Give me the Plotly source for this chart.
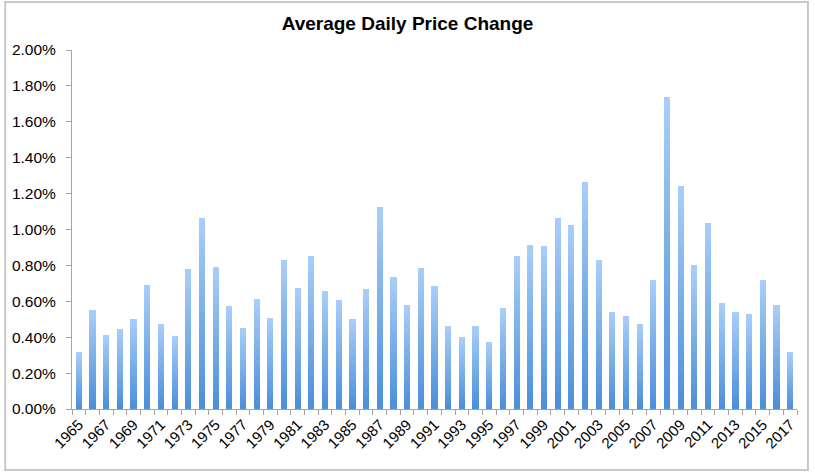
import plotly.graph_objects as go

years = list(range(1965, 2018))
avg_daily_change = [
    0.315, 0.553, 0.410, 0.447, 0.500, 0.692, 0.476, 0.404, 0.781, 1.066,
    0.790, 0.575, 0.451, 0.612, 0.506, 0.829, 0.673, 0.853, 0.657, 0.610,
    0.504, 0.669, 1.126, 0.738, 0.580, 0.786, 0.686, 0.462, 0.401, 0.465,
    0.376, 0.562, 0.851, 0.916, 0.907, 1.065, 1.026, 1.265, 0.831, 0.543,
    0.518, 0.475, 0.720, 1.738, 1.243, 0.800, 1.039, 0.592, 0.542, 0.529,
    0.720, 0.577, 0.319,
]  # percent
values = [v / 100 for v in avg_daily_change]

title_text = "Average Daily Price Change"

# gradient: bottom (dark) -> top (light), drawn as stacked slices of each bar
bottom_rgb = (74, 143, 216)
top_rgb = (170, 206, 250)
K = 30

fig = go.Figure()
for i in range(K):
    t = (i + 0.5) / K
    c = tuple(round(bottom_rgb[j] + (top_rgb[j] - bottom_rgb[j]) * t) for j in range(3))
    fig.add_trace(go.Bar(
        x=years,
        y=[v / K for v in values],
        width=0.45,
        marker=dict(color="rgb(%d,%d,%d)" % c, line=dict(width=0)),
        showlegend=False,
        hoverinfo="skip" if i < K - 1 else None,
        customdata=values,
        hovertemplate="%{x}: %{customdata:.2%}<extra></extra>",
    ))

W, H = 815, 474
L, R, T, B = 70, 18, 50, 65
pw = W - L - R
ph = H - T - B

fig.update_layout(
    width=W, height=H,
    margin=dict(l=L, r=R, t=T, b=B),
    barmode="stack",
    bargap=0,
    paper_bgcolor="white",
    plot_bgcolor="white",
    font=dict(family="Liberation Sans, Arial, sans-serif", color="black"),
    title=dict(text="<b>%s</b>" % title_text, x=0.5, xanchor="center",
               y=1 - 23 / H, yanchor="middle", font=dict(size=19)),
    xaxis=dict(
        range=[1964.5, 2017.5],
        tickmode="linear", tick0=1965, dtick=2,
        tickangle=-45,
        tickfont=dict(size=15),
        ticks="", showgrid=False, zeroline=False,
        showline=True, linecolor="#a6a6a6", linewidth=1,
        minor=dict(tickmode="linear", tick0=1964.5, dtick=1, ticks="outside",
                   ticklen=5, tickcolor="#a6a6a6", showgrid=False),
    ),
    yaxis=dict(
        range=[0, 0.02], dtick=0.002, tick0=0,
        tickformat=".2%",
        tickfont=dict(size=15.5),
        ticks="outside", ticklen=5, tickcolor="#a6a6a6",
        ticklabelstandoff=7,
        showgrid=False, zeroline=False,
        showline=True, linecolor="#a6a6a6", linewidth=1,
    ),
    shapes=[dict(
        type="rect", xref="paper", yref="paper",
        x0=(3 - L) / pw, x1=(808 - L) / pw,
        y0=(H - B - 470) / ph, y1=(H - B - 2) / ph,
        line=dict(color="#c8c8c8", width=2), layer="below",
    )],
)

fig.write_html("out.html", config={"displayModeBar": False},
               post_script="document.body.style.margin='0';")
